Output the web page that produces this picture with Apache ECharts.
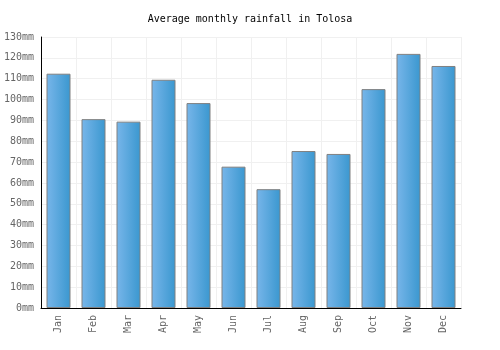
<!DOCTYPE html>
<html>
<head>
<meta charset="utf-8">
<script src="https://cdn.jsdelivr.net/npm/echarts@6/dist/echarts.min.js"></script>
<style>
    html, body { margin: 0; padding: 0; background: #fff; }
    #my_chart { width: 500px; height: 350px; }
</style>
</head>
<body>
<div id="my_chart"></div>
<script>
var months = ['Jan', 'Feb', 'Mar', 'Apr', 'May', 'Jun', 'Jul', 'Aug', 'Sep', 'Oct', 'Nov', 'Dec'];
var rainfall = [112.4, 90.6, 89.4, 109.5, 98.3, 67.8, 57.0, 75.3, 73.9, 105.0, 121.9, 116.1];
var titleText = 'Average monthly rainfall in Tolosa';

var font = 'DejaVu Sans Mono';
var myChart = echarts.init(document.getElementById('my_chart'));

var option = {
    animation: false,
    backgroundColor: '#fff',
    title: {
        text: titleText,
        left: 'center',
        top: 9,
        textStyle: {
            fontFamily: font,
            fontSize: 10,
            fontWeight: 'normal',
            color: '#000'
        }
    },
    grid: {
        left: 41,
        right: 39,
        top: 37,
        bottom: 42,
        containLabel: false,
        outerBoundsMode: 'none'
    },
    xAxis: {
        type: 'category',
        data: months,
        axisLine: { lineStyle: { color: '#000', width: 1 } },
        axisTick: { show: false },
        splitLine: { show: true, lineStyle: { color: '#f0f0f0' } },
        axisLabel: {
            rotate: 90,
            margin: 7,
            fontFamily: font,
            fontSize: 10,
            color: '#666'
        }
    },
    yAxis: {
        type: 'value',
        min: 0,
        max: 130,
        interval: 10,
        axisLine: { show: true, lineStyle: { color: '#000', width: 1 } },
        axisTick: { show: false },
        splitLine: { show: true, lineStyle: { color: '#f0f0f0' } },
        axisLabel: {
            formatter: '{value}mm',
            margin: 7,
            fontFamily: font,
            fontSize: 10,
            color: '#666'
        }
    },
    series: [{
        type: 'bar',
        data: rainfall,
        barWidth: 24,
        itemStyle: {
            color: new echarts.graphic.LinearGradient(0, 0, 1, 0, [
                { offset: 0, color: '#78b6ea' },
                { offset: 1, color: '#3a97cf' }
            ]),
            borderColor: '#808080',
            borderWidth: 1
        }
    }]
};

myChart.setOption(option);
</script>
</body>
</html>
